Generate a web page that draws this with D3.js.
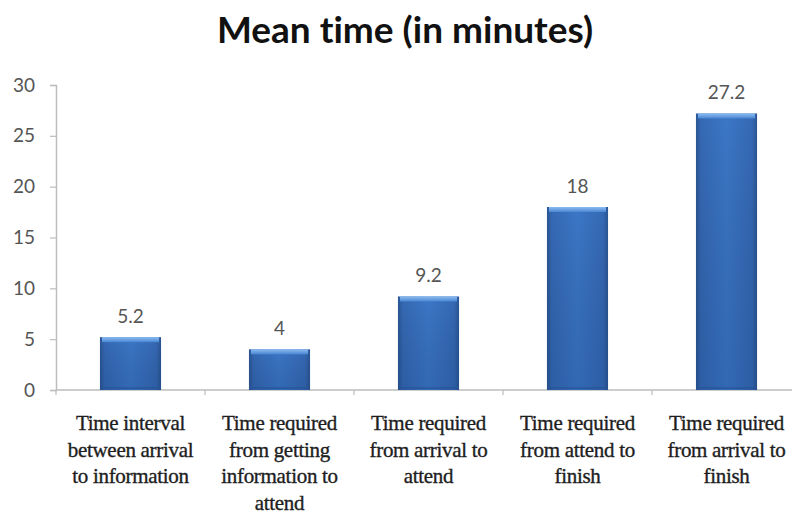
<!DOCTYPE html>
<html>
<head>
<meta charset="utf-8">
<script src="https://cdn.jsdelivr.net/npm/d3@7"></script>
<style>
  html, body { margin: 0; padding: 0; background: #fff; }
  svg { display: block; font-variant-ligatures: none; }
</style>
</head>
<body>
<svg id="chart" width="792" height="515"></svg>
<script>
// Mean time per stage, in minutes
const categories = [
  ["Time interval", "between arrival", "to information"],
  ["Time required", "from getting", "information to", "attend"],
  ["Time required", "from arrival to", "attend"],
  ["Time required", "from attend to", "finish"],
  ["Time required", "from arrival to", "finish"]
];
const values = [5.2, 4, 9.2, 18, 27.2];
const valueLabels = ["5.2", "4", "9.2", "18", "27.2"];
const yTicks = [0, 5, 10, 15, 20, 25, 30];
const titleText = "Mean time (in minutes)";

const svg = d3.select("#chart");

const x = d3.scaleBand()
  .domain(d3.range(values.length))
  .range([56, 801])
  .paddingInner(0.59)
  .paddingOuter(0.295);

const y = d3.scaleLinear().domain([0, 30]).range([390, 85]);

// Bar gradients: darker edges, lighter centre, soft top highlight
const defs = svg.append("defs");
const hg = defs.append("linearGradient").attr("id", "barH").attr("x1", 0).attr("x2", 1).attr("y1", 0).attr("y2", 0);
hg.append("stop").attr("offset", "0").attr("stop-color", "#2a5593");
hg.append("stop").attr("offset", "0.08").attr("stop-color", "#3569b4");
hg.append("stop").attr("offset", "0.5").attr("stop-color", "#3b77c7");
hg.append("stop").attr("offset", "0.92").attr("stop-color", "#3569b4");
hg.append("stop").attr("offset", "1").attr("stop-color", "#2a5593");
const vg = defs.append("linearGradient").attr("id", "barV").attr("x1", 0).attr("x2", 0).attr("y1", 0).attr("y2", 1);
vg.append("stop").attr("offset", "0").attr("stop-color", "#000").attr("stop-opacity", 0);
vg.append("stop").attr("offset", "1").attr("stop-color", "#0a2a60").attr("stop-opacity", 0.18);
const tg = defs.append("linearGradient").attr("id", "barTop").attr("x1", 0).attr("x2", 0).attr("y1", 0).attr("y2", 1);
tg.append("stop").attr("offset", "0").attr("stop-color", "#8cbcf0");
tg.append("stop").attr("offset", "1").attr("stop-color", "#4a86d3");

// Title
svg.append("text")
  .attr("x", 405).attr("y", 43)
  .attr("text-anchor", "middle")
  .attr("font-family", "Lato, 'Open Sans', sans-serif")
  .attr("font-weight", "bold")
  .attr("font-size", 37)
  .attr("fill", "#111")
  .text(titleText);

// Y axis
const yAxis = d3.axisLeft(y).tickValues(yTicks).tickSize(6).tickPadding(15);
const gy = svg.append("g").attr("transform", "translate(56,0)").call(yAxis);
gy.select(".domain").attr("stroke", "#bdbdbd").attr("stroke-width", 1.5);
gy.selectAll(".tick line").attr("stroke", "#bdbdbd").attr("stroke-width", 1.2);
gy.selectAll(".tick text")
  .attr("font-family", "Lato, 'Open Sans', sans-serif")
  .attr("font-size", 19)
  .attr("fill", "#555");

// X axis with tick marks at category boundaries
const xAxisLine = svg.append("g");
xAxisLine.append("line")
  .attr("x1", 56).attr("x2", 801)
  .attr("y1", y(0)).attr("y2", y(0))
  .attr("stroke", "#bdbdbd").attr("stroke-width", 1.5);
const step = x.step();
xAxisLine.selectAll("line.tk")
  .data(d3.range(values.length + 1))
  .join("line")
  .attr("class", "tk")
  .attr("x1", i => 56 + i * step).attr("x2", i => 56 + i * step)
  .attr("y1", y(0)).attr("y2", y(0) + 5)
  .attr("stroke", "#bdbdbd").attr("stroke-width", 1.2);

// Bars
const bars = svg.append("g").selectAll("g.bar")
  .data(values)
  .join("g").attr("class", "bar");
bars.append("rect")
  .attr("x", (d, i) => x(i)).attr("width", x.bandwidth())
  .attr("y", d => y(d)).attr("height", d => y(0) - y(d))
  .attr("fill", "url(#barH)");
bars.append("rect")
  .attr("x", (d, i) => x(i)).attr("width", x.bandwidth())
  .attr("y", d => y(d)).attr("height", d => y(0) - y(d))
  .attr("fill", "url(#barV)");
bars.append("rect")
  .attr("x", (d, i) => x(i) + 2).attr("width", x.bandwidth() - 4)
  .attr("y", d => y(d)).attr("height", 5)
  .attr("fill", "url(#barTop)");
bars.append("line")
  .attr("x1", (d, i) => x(i) + 3).attr("x2", (d, i) => x(i) + x.bandwidth() - 3)
  .attr("y1", y(0) - 2).attr("y2", y(0) - 2)
  .attr("stroke", "#24508f").attr("stroke-width", 1.2);

// Value labels
svg.append("g").selectAll("text")
  .data(values)
  .join("text")
  .attr("x", (d, i) => x(i) + x.bandwidth() / 2)
  .attr("y", d => y(d) - 14)
  .attr("text-anchor", "middle")
  .attr("font-family", "Lato, 'Open Sans', sans-serif")
  .attr("font-size", 19)
  .attr("fill", "#555")
  .text((d, i) => valueLabels[i]);

// Category labels (multi-line)
const cat = svg.append("g").selectAll("text")
  .data(categories)
  .join("text")
  .attr("text-anchor", "middle")
  .attr("font-family", "'Liberation Serif', 'Times New Roman', serif")
  .attr("font-size", 21)
  .attr("fill", "#1e1e1e")
  .attr("stroke", "#1e1e1e")
  .attr("stroke-width", 0.35)
  .attr("letter-spacing", -0.3);
cat.each(function(lines, i) {
  d3.select(this).selectAll("tspan")
    .data(lines)
    .join("tspan")
    .attr("x", x(i) + x.bandwidth() / 2)
    .attr("y", (l, j) => 430 + j * 26.5)
    .text(l => l);
});
</script>
</body>
</html>
